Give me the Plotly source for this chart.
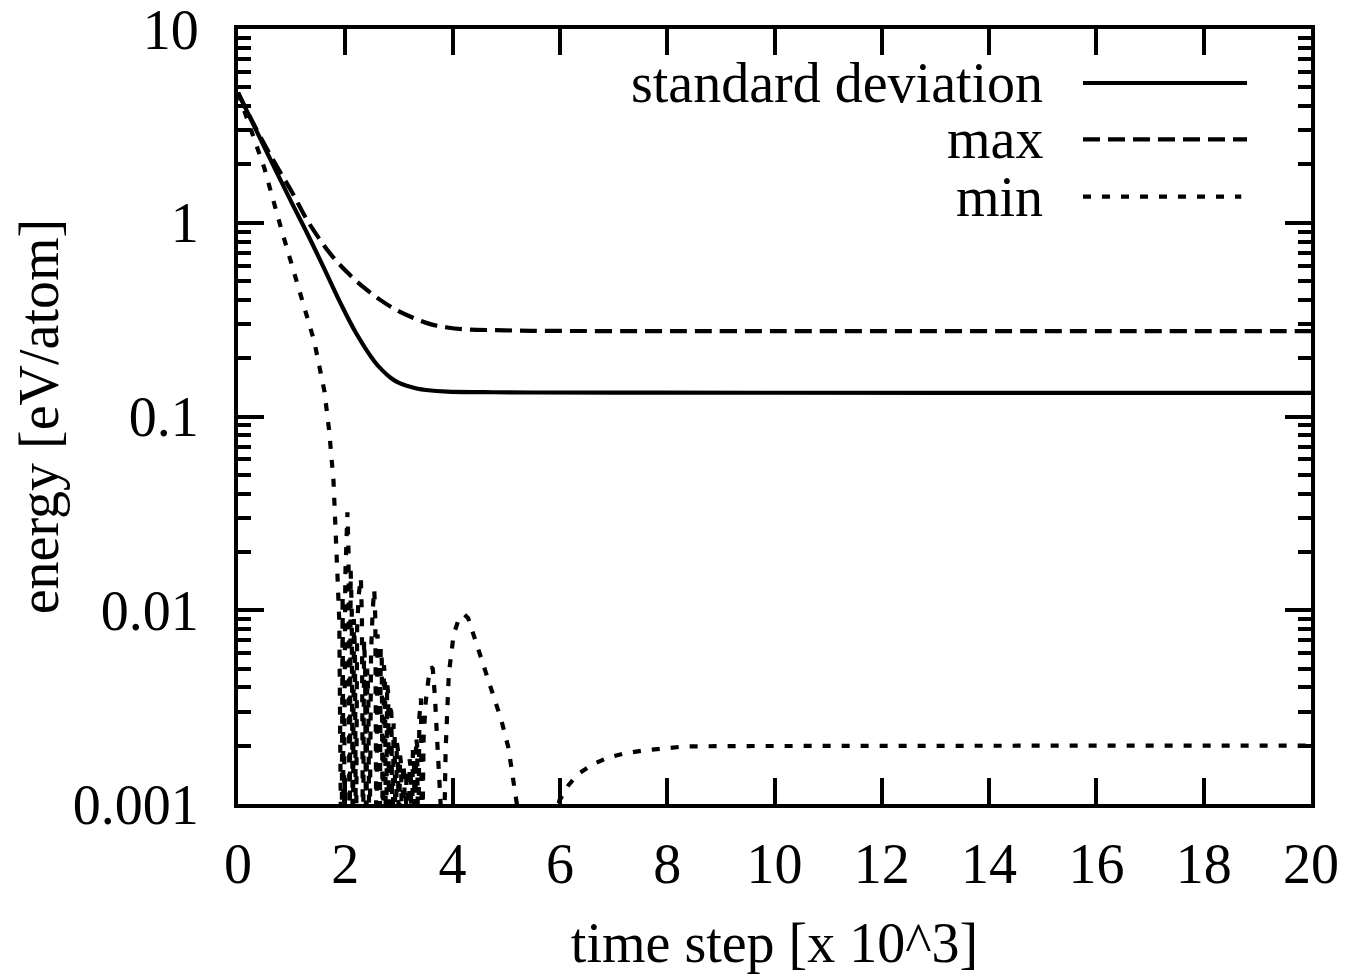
import plotly.graph_objects as go

# ---- data (time step in units of 10^3, energy in eV/atom) ----
std_x = [0, 0.34, 0.68, 1.0, 1.3, 1.62, 1.92, 2.2, 2.54, 2.7, 2.85, 3.0, 3.16, 3.35, 3.5, 3.9, 4.6, 5.5, 7.5, 10, 15, 20]
std_y = [4.69, 3.0, 1.92, 1.27, 0.87, 0.57, 0.38, 0.27, 0.193, 0.172, 0.158, 0.149, 0.1435, 0.139, 0.137, 0.1343, 0.1335, 0.133, 0.1328, 0.1326, 0.1325, 0.1325]

max_x = [0, 0.34, 0.68, 1.0, 1.3, 1.73, 2.05, 2.35, 2.65, 2.98, 3.3, 3.6, 3.9, 4.22, 4.8, 5.46, 7.5, 10, 15, 20]
max_y = [4.69, 3.05, 2.05, 1.45, 1.02, 0.687, 0.55, 0.462, 0.40, 0.351, 0.32, 0.299, 0.288, 0.282, 0.279, 0.277, 0.276, 0.276, 0.276, 0.276]

min_x = [0, 0.24, 0.49, 0.80, 1.11, 1.42, 1.61, 1.70, 1.78, 1.81, 1.846, 1.858, 1.888, 1.93,
         1.95, 1.97, 2.00, 2.04, 2.06, 2.08, 2.10, 2.12, 2.14, 2.16, 2.18, 2.20, 2.22, 2.25, 2.29,
         2.31, 2.33, 2.35, 2.37, 2.39, 2.41, 2.43, 2.45, 2.48, 2.51, 2.54, 2.56, 2.58, 2.60, 2.62,
         2.64, 2.66, 2.68, 2.70, 2.72, 2.74, 2.76, 2.78, 2.80, 2.82, 2.84, 2.86, 2.88, 2.90, 2.92,
         2.94, 2.96, 2.98, 3.00, 3.02, 3.04, 3.06, 3.08, 3.10, 3.12, 3.14, 3.16, 3.18, 3.20, 3.22,
         3.24, 3.26, 3.28, 3.30, 3.32, 3.34, 3.36, 3.38, 3.41, 3.43, 3.46, 3.50, 3.55, 3.60, 3.63,
         3.67, 3.71, 3.75, 3.78, 3.82, 3.85, 3.87, 3.93, 4.02, 4.12, 4.22, 4.29, 4.41, 4.54, 4.66,
         4.79, 4.91, 5.04, 5.15, 5.25, 5.60, 5.90, 5.99, 6.15, 6.33, 6.61, 6.89, 7.23, 7.57, 7.95,
         8.32, 9.2, 12, 16, 20]
min_y = [4.69, 2.98, 1.92, 0.943, 0.481, 0.245, 0.1355, 0.0842, 0.0465, 0.0295, 0.0228, 0.0142, 0.0088, 0.0003,
         0.012, 0.0004, 0.015, 0.032, 0.02, 0.0004, 0.016, 0.010, 0.0004, 0.009, 0.006, 0.0004, 0.008, 0.012, 0.0147,
         0.009, 0.0004, 0.007, 0.005, 0.0004, 0.005, 0.0035, 0.0004, 0.006, 0.010, 0.0128, 0.009, 0.0004, 0.0075, 0.0064,
         0.0004, 0.0064, 0.0055, 0.0004, 0.0052, 0.0045, 0.0004, 0.0042, 0.0037, 0.0004, 0.0033, 0.0029, 0.0004, 0.0026, 0.0023,
         0.0004, 0.0021, 0.0019, 0.0005, 0.0018, 0.0016, 0.0005, 0.0016, 0.0014, 0.0005, 0.0015, 0.0013, 0.0005, 0.0017, 0.0015,
         0.0005, 0.0019, 0.0017, 0.0005, 0.0022, 0.0020, 0.0005, 0.0028, 0.0035, 0.0005, 0.0022, 0.0034, 0.0044, 0.0051, 0.0050,
         0.0036, 0.0022, 0.0012, 0.0008, 0.0006, 0.0009, 0.0019, 0.0047, 0.0075, 0.0091, 0.0095, 0.0091, 0.0072, 0.0057, 0.0045,
         0.0035, 0.0027, 0.00195, 0.00117, 0.0008, 0.0005, 0.0008, 0.00104, 0.00124, 0.00142, 0.0016, 0.00173, 0.00183, 0.00189, 0.00194,
         0.00198, 0.00199, 0.002, 0.002, 0.002]

series_names = ["standard deviation", "max", "min"]
x_ticks = [0, 2, 4, 6, 8, 10, 12, 14, 16, 18, 20]
y_tickvals = [0.001, 0.01, 0.1, 1, 10]
y_ticktext = ["0.001", "0.01", "0.1", "1", "10"]

FONT = "Liberation Serif"
FS = 56
dashes = ["solid", "17px,8px", "8px,11px"]
LW = 4.2

fig = go.Figure()
fig.add_trace(go.Scatter(x=std_x, y=std_y, mode="lines", name=series_names[0],
                         line=dict(color="black", width=LW, dash=dashes[0], shape="spline", smoothing=1.0)))
fig.add_trace(go.Scatter(x=max_x, y=max_y, mode="lines", name=series_names[1],
                         line=dict(color="black", width=LW, dash=dashes[1], shape="spline", smoothing=1.0)))
fig.add_trace(go.Scatter(x=min_x, y=min_y, mode="lines", name=series_names[2],
                         line=dict(color="black", width=LW, dash=dashes[2])))

# legend drawn gnuplot-style: right-aligned text, sample line on the right
leg_y = [0.9303, 0.8577, 0.7836]
leg_ends = [0.9404, 0.9404, 0.935]
for name, yy, dsh, xe in zip(series_names, leg_y, dashes, leg_ends):
    fig.add_annotation(x=0.752, y=yy, xref="paper", yref="paper", text=name, showarrow=False,
                       xanchor="right", yanchor="middle", font=dict(family=FONT, size=FS, color="black"))
    fig.add_shape(type="line", xref="paper", yref="paper", x0=0.7875, x1=xe, y0=yy, y1=yy,
                  line=dict(color="black", width=LW, dash=dsh))

axis_common = dict(
    showline=True, linecolor="black", linewidth=4, mirror="allticks",
    ticks="inside", ticklen=26, tickwidth=3.5, tickcolor="black",
    showgrid=False, zeroline=False, ticklabeloverflow="allow", automargin=False,
    tickfont=dict(family=FONT, size=FS, color="black"),
)

fig.update_xaxes(range=[0, 20], tickmode="array", tickvals=x_ticks, ticklabelstandoff=8,
                 title=dict(text="time step [x 10^3]", font=dict(family=FONT, size=FS, color="black"), standoff=30),
                 **axis_common)
fig.update_yaxes(type="log", range=[-3.0003, 1.0003], tickmode="array", tickvals=y_tickvals, ticktext=y_ticktext,
                 ticklabelstandoff=24,
                 minor=dict(ticks="inside", ticklen=13, tickwidth=3.5, tickcolor="black", dtick="D1", showgrid=False),
                 title=dict(text="energy [eV/atom]", font=dict(family=FONT, size=FS, color="black"), standoff=8),
                 **axis_common)

fig.update_layout(
    width=1351, height=976,
    margin=dict(l=230, r=48, t=21, b=180, autoexpand=False),
    paper_bgcolor="white", plot_bgcolor="white",
    showlegend=False,
    font=dict(family=FONT, size=FS, color="black"),
)

fig.write_html("out.html")
